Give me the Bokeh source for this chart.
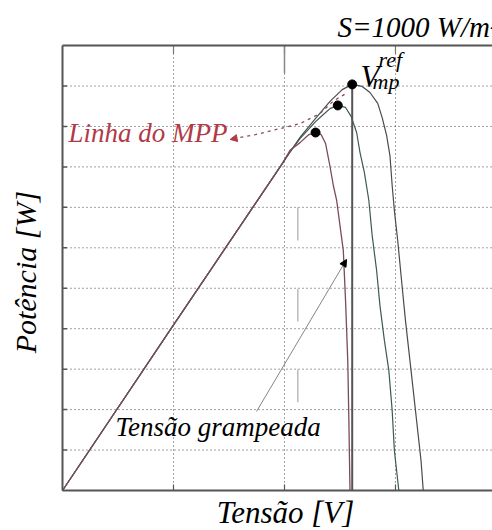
import math
from bokeh.plotting import figure
from bokeh.models import Range1d, Label, Arrow, NormalHead
from bokeh.embed import file_html
from bokeh.resources import INLINE

# --- data (grid units) ---
V_small = [0, 0.99, 1.98, 2.05, 2.14, 2.22, 2.28, 2.33, 2.37, 2.41, 2.44, 2.47, 2.50, 2.53, 2.55, 2.57, 2.58, 2.59]
P_small = [0, 4.05, 8.08, 8.41, 8.60, 8.80, 8.85, 8.80, 8.58, 8.01, 7.54, 7.17, 6.55, 5.93, 4.70, 3.21, 1.73, 0]

V_mid = [0, 0.99, 1.98, 2.05, 2.14, 2.28, 2.34, 2.41, 2.48, 2.55, 2.60, 2.65, 2.68, 2.72, 2.76, 2.79, 2.83, 2.86, 2.90, 2.94, 2.97, 2.99, 3.03]
P_mid = [0, 4.05, 8.08, 8.38, 8.70, 9.12, 9.27, 9.44, 9.52, 9.47, 9.25, 8.85, 8.36, 7.86, 7.17, 6.30, 5.44, 4.57, 3.71, 2.97, 1.98, 0.99, 0]

V_large = [0, 0.99, 1.98, 2.14, 2.28, 2.41, 2.52, 2.61, 2.70, 2.77, 2.84, 2.88, 2.92, 2.95, 2.97, 2.99, 3.02, 3.05, 3.09, 3.14, 3.19, 3.23, 3.25]
P_large = [0, 4.05, 8.08, 8.73, 9.20, 9.62, 9.91, 10.04, 9.99, 9.84, 9.57, 9.22, 8.78, 8.28, 7.54, 6.92, 6.18, 5.32, 4.20, 2.97, 1.73, 0.74, 0]

V_mpp = [2.28, 2.48, 2.61]
P_mpp = [8.85, 9.52, 10.04]

V_mppline = [1.54, 1.74, 1.92, 2.14, 2.32, 2.44, 2.57]
P_mppline = [8.70, 8.80, 8.92, 9.07, 9.32, 9.63, 9.84]

V_ref = 2.61

V_clamp_marks = [2.12, 2.12, 2.12]
P_clamp_top = [7.00, 4.99, 2.99]
P_clamp_bot = [6.18, 4.18, 2.18]

x_ticks = [1, 2, 3]
y_ticks = [1, 2, 3, 4, 5, 6, 7, 8, 9, 10]
V_min, V_max = 0, 3.874
P_min, P_max = 0, 11

SERIF = "Liberation Serif"

# frame fills the whole canvas; box, grid and ticks are drawn in data space
p = figure(width=492, height=530, output_backend="svg", toolbar_location=None,
           x_range=Range1d(-0.5586, 3.874), y_range=Range1d(-0.989, 12.114),
           min_border=0)
p.axis.visible = False
p.grid.visible = False
p.outline_line_color = None
p.background_fill_color = "white"
p.border_fill_color = "white"

# dotted grid
p.segment(x0=x_ticks, y0=[P_min] * len(x_ticks), x1=x_ticks, y1=[P_max] * len(x_ticks),
          line_color="#444444", line_dash="1 3", line_width=1)
p.segment(x0=[V_min] * len(y_ticks), y0=y_ticks, x1=[V_max] * len(y_ticks), y1=y_ticks,
          line_color="#444444", line_dash="1 3", line_width=1)

# inward ticks
p.segment(x0=[V_min] * len(y_ticks), y0=y_ticks, x1=[V_min + 0.04] * len(y_ticks), y1=y_ticks,
          line_color="#555555", line_width=1.5)
p.segment(x0=x_ticks, y0=[P_min] * len(x_ticks), x1=x_ticks, y1=[P_min + 0.15] * len(x_ticks),
          line_color="#555555", line_width=1.2)
p.segment(x0=x_ticks, y0=[P_max] * len(x_ticks), x1=x_ticks, y1=[P_max - 0.2] * len(x_ticks),
          line_color="#777777", line_width=1.2)

# faint clamp marks
p.segment(x0=V_clamp_marks, y0=P_clamp_top, x1=V_clamp_marks, y1=P_clamp_bot,
          line_color="#bbbbbb", line_width=1.5)
p.segment(x0=[x_ticks[1]], y0=[P_max], x1=[x_ticks[1]], y1=[10.31], line_color="#888888", line_width=1.5)

# box: left, bottom, top
p.segment(x0=[V_min, V_min, V_min], y0=[P_min, P_min, P_max],
          x1=[V_min, V_max, V_max], y1=[P_max, P_min, P_max],
          line_color="#555555", line_width=2)

# curves
p.line(V_large, P_large, line_color="#4b4b4b", line_width=1.2)
p.line(V_mid, P_mid, line_color="#3d5b4c", line_width=1.2)
p.line(V_small, P_small, line_color="#7d4a5a", line_width=1.3)

# Vref vertical line
p.segment(x0=[V_ref], y0=[P_min], x1=[V_ref], y1=[max(P_large)], line_color="#555555", line_width=2)

# MPP line
p.line(V_mppline, P_mppline, line_color="#8e4a58", line_width=1.3, line_dash="3 4")
p.add_layout(Arrow(end=NormalHead(size=7, fill_color="#b03a48", line_color="#b03a48"),
                   x_start=V_mppline[1], y_start=P_mppline[1], x_end=V_mppline[0] - 0.03, y_end=P_mppline[0] - 0.02,
                   line_color=None))

# MPP dots
p.scatter(V_mpp, P_mpp, size=9, fill_color="black", line_color="black")

# Tensão grampeada arrow
p.add_layout(Arrow(end=NormalHead(size=7, fill_color="black", line_color="black"),
                   x_start=1.748, y_start=1.953, x_end=2.559, y_end=5.711,
                   line_color="#666666", line_width=0.8))

def lab(x, y, t, size, color="black", angle=0.0):
    p.add_layout(Label(x=x, y=y, text=t, text_font=SERIF, text_font_style="italic",
                       text_font_size=size, text_color=color, angle=angle,
                       text_align="left", text_baseline="alphabetic"))

lab(2.477, 11.45, "S=1000 W/m²", "29px")
lab(2.685, 10.24, "V", "31px")
lab(2.847, 10.66, "ref", "22px")
lab(2.793, 10.11, "mp", "22px")
lab(0.054, 8.83, "Linha do MPP", "27px", color="#b03a48")
lab(0.477, 1.56, "Tensão grampeada", "27px")
lab(1.390, -0.54, "Tensão [V]", "31px")
lab(-0.333, 3.39, "Potência [W]", "30px", angle=math.pi / 2)

open("out.html", "w").write(file_html(p, INLINE))
